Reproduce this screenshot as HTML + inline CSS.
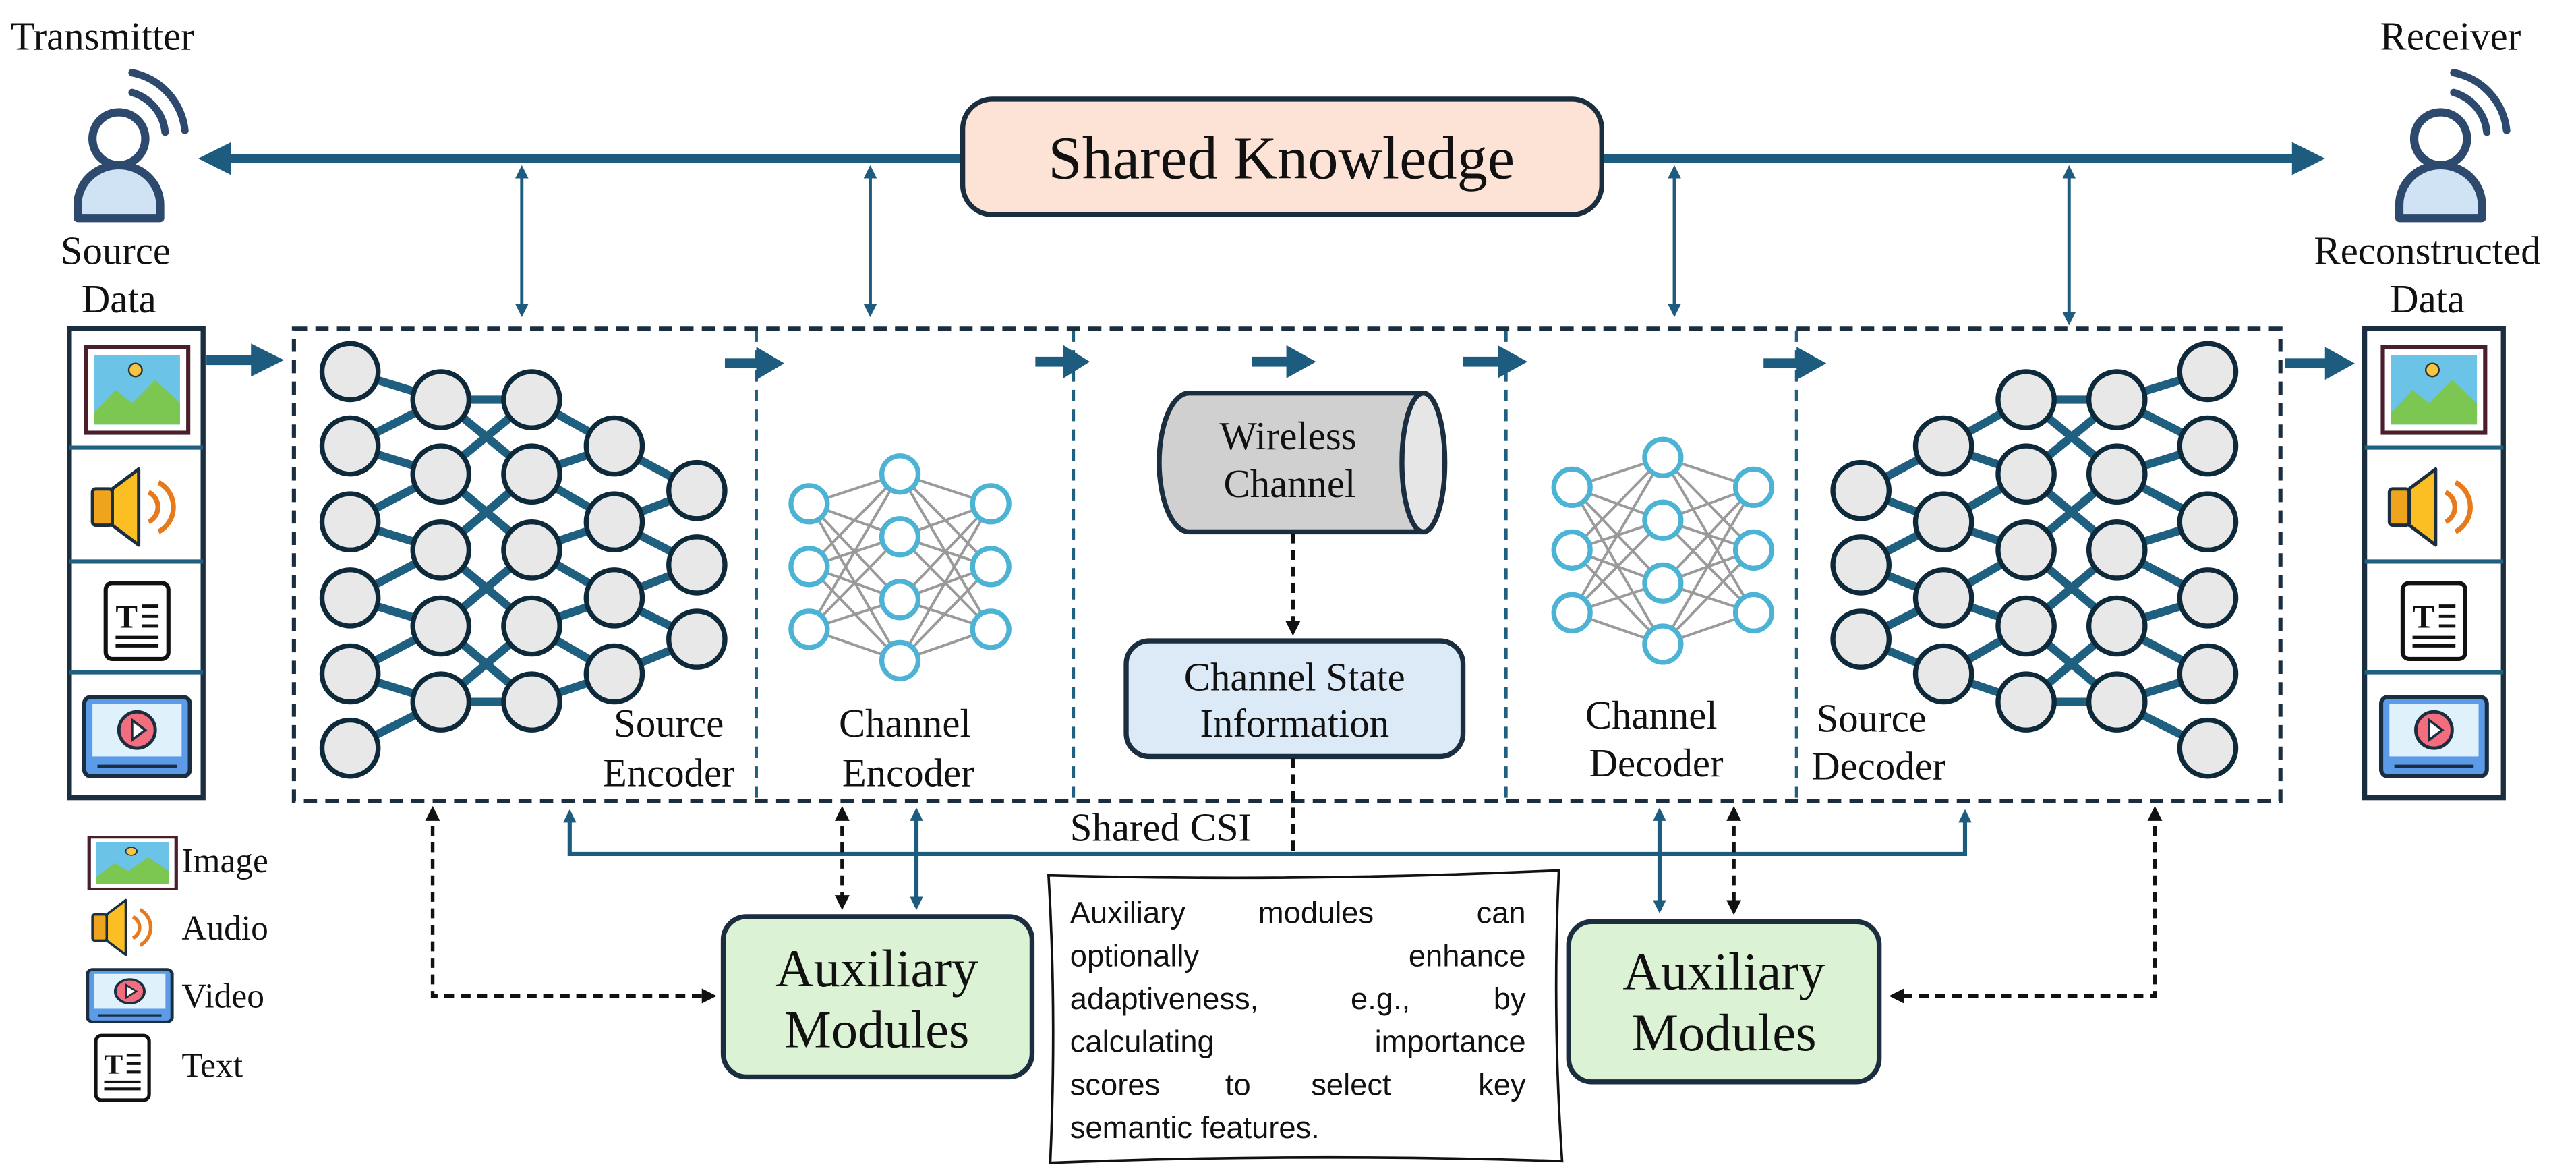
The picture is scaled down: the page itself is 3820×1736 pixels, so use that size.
<!DOCTYPE html>
<html><head><meta charset="utf-8"><style>
html,body{margin:0;padding:0;background:#fff;}
svg{display:block;}
.a{font-family:"Liberation Sans",sans-serif;fill:#111;font-size:18.5px;}
</style></head><body>
<svg width="3820" height="1736" viewBox="0 0 1560 709" preserveAspectRatio="none" xmlns="http://www.w3.org/2000/svg">
<defs>
<marker id="tb" markerWidth="8" markerHeight="8" refX="6" refY="4" orient="auto-start-reverse" markerUnits="userSpaceOnUse"><path d="M0,0L8,4L0,8z" fill="#1d5c7e"/></marker>
<marker id="bk" markerWidth="9" markerHeight="9" refX="7" refY="4.5" orient="auto-start-reverse" markerUnits="userSpaceOnUse"><path d="M0,0L9,4.5L0,9z" fill="#111"/></marker>
<g id="enc">
<path stroke="#1f5f80" stroke-width="5" fill="none" d="M212 225L267 242 M212 270L267 242 M212 270L267 287 M212 316L267 287 M212 316L267 333 M212 362L267 333 M212 362L267 379 M212 408L267 379 M212 408L267 425 M212 453L267 425 M267 242L322 242 M267 242L322 287 M267 287L322 242 M267 287L322 333 M267 333L322 287 M267 333L322 379 M267 379L322 333 M267 379L322 425 M267 425L322 379 M267 425L322 425 M322 242L372 270 M322 287L372 270 M322 287L372 316 M322 333L372 316 M322 333L372 362 M322 379L372 362 M322 379L372 408 M322 425L372 408 M372 270L422 297 M372 316L422 297 M372 316L422 342 M372 362L422 342 M372 362L422 387 M372 408L422 387"/>
<g fill="#e8e8e8" stroke="#0e2a3a" stroke-width="3">
<circle cx="212" cy="225" r="17"/><circle cx="212" cy="270" r="17"/><circle cx="212" cy="316" r="17"/><circle cx="212" cy="362" r="17"/><circle cx="212" cy="408" r="17"/><circle cx="212" cy="453" r="17"/>
<circle cx="267" cy="242" r="17"/><circle cx="267" cy="287" r="17"/><circle cx="267" cy="333" r="17"/><circle cx="267" cy="379" r="17"/><circle cx="267" cy="425" r="17"/>
<circle cx="322" cy="242" r="17"/><circle cx="322" cy="287" r="17"/><circle cx="322" cy="333" r="17"/><circle cx="322" cy="379" r="17"/><circle cx="322" cy="425" r="17"/>
<circle cx="372" cy="270" r="17"/><circle cx="372" cy="316" r="17"/><circle cx="372" cy="362" r="17"/><circle cx="372" cy="408" r="17"/>
<circle cx="422" cy="297" r="17"/><circle cx="422" cy="342" r="17"/><circle cx="422" cy="387" r="17"/>
</g></g>
<g id="ch">
<path stroke="#9a9a9a" stroke-width="1.6" fill="none" d="M490 305L545 287M490 305L545 325M490 305L545 363M490 305L545 400M490 343L545 287M490 343L545 325M490 343L545 363M490 343L545 400M490 381L545 287M490 381L545 325M490 381L545 363M490 381L545 400M600 305L545 287M600 305L545 325M600 305L545 363M600 305L545 400M600 343L545 287M600 343L545 325M600 343L545 363M600 343L545 400M600 381L545 287M600 381L545 325M600 381L545 363M600 381L545 400"/>
<g fill="#fff" stroke="#4db3d4" stroke-width="3">
<circle cx="490" cy="305" r="11"/><circle cx="490" cy="343" r="11"/><circle cx="490" cy="381" r="11"/>
<circle cx="545" cy="287" r="11"/><circle cx="545" cy="325" r="11"/><circle cx="545" cy="363" r="11"/><circle cx="545" cy="400" r="11"/>
<circle cx="600" cy="305" r="11"/><circle cx="600" cy="343" r="11"/><circle cx="600" cy="381" r="11"/>
</g></g>
<g id="person">
<circle cx="0" cy="0" r="16" fill="#fff" stroke="#2d4a6e" stroke-width="5"/>
<path d="M-25 48 L-25 40 A25 24 0 0 1 25 40 L25 48 Z" fill="#cfe3f5" stroke="#2d4a6e" stroke-width="5" stroke-linejoin="round"/>
<path d="M8 -28 A28 28 0 0 1 28 -4" fill="none" stroke="#2d4a6e" stroke-width="4.5" stroke-linecap="round"/>
<path d="M8 -40 A40 40 0 0 1 40 -5" fill="none" stroke="#2d4a6e" stroke-width="4.5" stroke-linecap="round"/>
</g>
<g id="imgicon">
<rect x="0" y="0" width="62" height="52" fill="#fff" stroke="#4a1f2a" stroke-width="2.5"/>
<rect x="5" y="5" width="52" height="42" fill="#6cc3e8"/>
<path d="M5 40 L18 26 L28 34 L42 20 L57 34 L57 47 L5 47Z" fill="#7cc652"/>
<circle cx="30" cy="14" r="4" fill="#f6c542" stroke="#333" stroke-width="1"/>
</g>
<g id="spk">
<rect x="0" y="12" width="12" height="22" rx="2" fill="#eea41c" stroke="#1a2e40" stroke-width="2"/>
<path d="M12 12 L28 0 L28 46 L12 34Z" fill="#fbbf24" stroke="#1a2e40" stroke-width="2" stroke-linejoin="round"/>
<path d="M34 14 A10 10 0 0 1 34 32" fill="none" stroke="#e87a1e" stroke-width="3"/>
<path d="M40 8 A17 17 0 0 1 40 38" fill="none" stroke="#e87a1e" stroke-width="3"/>
</g>
<g id="doc">
<rect x="0" y="0" width="38" height="46" rx="4" fill="#fff" stroke="#111" stroke-width="2.5"/>
<text x="6" y="27" font-family="Liberation Serif,serif" font-weight="bold" font-size="20" fill="#111">T</text>
<path d="M22 14H32M22 20H32M22 26H32M6 33H32M6 38H32" stroke="#111" stroke-width="2"/>
</g>
<g id="vid">
<rect x="0" y="0" width="64" height="48" rx="4" fill="#5b9be8" stroke="#1a2e40" stroke-width="2.5"/>
<rect x="5" y="4" width="54" height="32" fill="#dff2fb"/>
<circle cx="32" cy="20" r="11" fill="#f26d7d" stroke="#1a2e40" stroke-width="2"/>
<path d="M29 14 L37 20 L29 26Z" fill="#fff" stroke="#1a2e40" stroke-width="1.5"/>
<path d="M8 42H56" stroke="#1a2e40" stroke-width="2"/>
</g>
</defs>

<g font-family="Liberation Serif, serif" fill="#111">
<text x="62" y="30" font-size="24" text-anchor="middle">Transmitter</text>
<text x="1484" y="30" font-size="24" text-anchor="middle">Receiver</text>
<text x="70" y="160" font-size="24" text-anchor="middle">Source</text>
<text x="72" y="189" font-size="24" text-anchor="middle">Data</text>
<text x="1470" y="160" font-size="24" text-anchor="middle">Reconstructed</text>
<text x="1470" y="189" font-size="24" text-anchor="middle">Data</text>
</g>
<use href="#person" x="72" y="84"/>
<use href="#person" x="1478" y="84"/>

<line x1="130" y1="96" x2="1398" y2="96" stroke="#1d5c7e" stroke-width="5"/>
<path d="M120 96 L140 86 L140 106Z" fill="#1d5c7e"/>
<path d="M1408 96 L1388 86 L1388 106Z" fill="#1d5c7e"/>
<rect x="583" y="60" width="387" height="70" rx="18" fill="#fde3d5" stroke="#1a2e40" stroke-width="3"/>
<text font-family="Liberation Serif, serif" fill="#111" x="776" y="108" font-size="37" text-anchor="middle">Shared Knowledge</text>
<g stroke="#1d5c7e" stroke-width="2" marker-start="url(#tb)" marker-end="url(#tb)">
<line x1="316" y1="102" x2="316" y2="190"/>
<line x1="527" y1="102" x2="527" y2="190"/>
<line x1="1014" y1="102" x2="1014" y2="190"/>
<line x1="1253" y1="102" x2="1253" y2="195"/>
</g>

<g fill="#fff" stroke="#1a2e40" stroke-width="3">
<rect x="42" y="199" width="81" height="284"/>
<rect x="1432" y="199" width="84" height="284"/>
</g>
<path d="M42 271H123M42 340H123M42 407H123M1432 271H1516M1432 340H1516M1432 407H1516" stroke="#1f5f80" stroke-width="2.5"/>
<use href="#imgicon" x="52" y="210"/><use href="#imgicon" x="1443" y="210"/>
<use href="#spk" x="56" y="284"/><use href="#spk" x="1447" y="284"/>
<use href="#doc" x="64" y="353"/><use href="#doc" x="1455" y="353"/>
<use href="#vid" x="51" y="422"/><use href="#vid" x="1442" y="422"/>

<g stroke="#1f5f80" stroke-width="2" stroke-dasharray="7 5">
<line x1="458" y1="200" x2="458" y2="484"/>
<line x1="650" y1="200" x2="650" y2="484"/>
<line x1="912" y1="200" x2="912" y2="484"/>
<line x1="1088" y1="200" x2="1088" y2="484"/>
</g>
<rect x="178" y="199" width="1203" height="286" fill="none" stroke="#1a2e40" stroke-width="2.5" stroke-dasharray="8 5"/>

<g fill="#1d5c7e">
<rect x="125" y="215" width="28" height="6"/><path d="M152 208 L172 218 L152 228Z"/>
<rect x="439" y="217" width="20" height="6"/><path d="M458 210 L475 220 L458 230Z"/>
<rect x="627" y="216" width="18" height="6"/><path d="M644 209 L660 219 L644 229Z"/>
<rect x="758" y="216" width="22" height="6"/><path d="M779 209 L797 219 L779 229Z"/>
<rect x="886" y="216" width="22" height="6"/><path d="M907 209 L925 219 L907 229Z"/>
<rect x="1068" y="217" width="22" height="6"/><path d="M1088 210 L1106 220 L1088 230Z"/>
<rect x="1384" y="217" width="26" height="6"/><path d="M1408 210 L1426 220 L1408 230Z"/>
</g>

<use href="#enc"/>
<use href="#enc" transform="translate(1549,0) scale(-1,1)"/>
<use href="#ch"/>
<use href="#ch" transform="translate(462,-10)"/>
<g font-family="Liberation Serif, serif" fill="#111" font-size="24">
<text x="405" y="446" text-anchor="middle">Source</text>
<text x="405" y="476" text-anchor="middle">Encoder</text>
<text x="548" y="446" text-anchor="middle">Channel</text>
<text x="550" y="476" text-anchor="middle">Encoder</text>
<text x="1000" y="441" text-anchor="middle">Channel</text>
<text x="1003" y="470" text-anchor="middle">Decoder</text>
<text x="1100" y="443">Source</text>
<text x="1097" y="472">Decoder</text>
</g>

<path d="M720 238 H862 V322 H720 A18 42 0 0 1 720 238Z" fill="#d0d0d0" stroke="#1a2e40" stroke-width="3"/>
<ellipse cx="862" cy="280" rx="13" ry="42" fill="#e6e6e6" stroke="#1a2e40" stroke-width="3"/>
<g font-family="Liberation Serif, serif" fill="#111" font-size="24" text-anchor="middle">
<text x="780" y="272">Wireless</text>
<text x="781" y="301">Channel</text>
</g>
<line x1="783" y1="323" x2="783" y2="383" stroke="#111" stroke-width="2.5" stroke-dasharray="6 4" marker-end="url(#bk)"/>
<rect x="682" y="388" width="204" height="70" rx="14" fill="#dce9f7" stroke="#1a2e40" stroke-width="3"/>
<g font-family="Liberation Serif, serif" fill="#111" font-size="24" text-anchor="middle">
<text x="784" y="418">Channel State</text>
<text x="784" y="446">Information</text>
</g>
<line x1="783" y1="459" x2="783" y2="517" stroke="#111" stroke-width="2.5" stroke-dasharray="6 4"/>

<path d="M345 492 V517 H1190 V492" fill="none" stroke="#1d5c7e" stroke-width="2.5" marker-start="url(#tb)" marker-end="url(#tb)"/>
<text font-family="Liberation Serif, serif" fill="#111" x="703" y="509" font-size="24" text-anchor="middle">Shared CSI</text>
<g stroke="#1d5c7e" stroke-width="2.5" marker-start="url(#tb)" marker-end="url(#tb)">
<line x1="555" y1="491" x2="555" y2="549"/>
<line x1="1005" y1="491" x2="1005" y2="551"/>
</g>
<g stroke="#111" stroke-width="2.2" stroke-dasharray="6 4" fill="none" marker-start="url(#bk)" marker-end="url(#bk)">
<line x1="510" y1="490" x2="510" y2="549"/>
<line x1="1050" y1="490" x2="1050" y2="552"/>
<path d="M262 490 V603 H432"/>
<path d="M1305 490 V603 H1146"/>
</g>

<rect x="438" y="555" width="187" height="97" rx="14" fill="#dcf2d4" stroke="#1a2e40" stroke-width="3"/>
<rect x="950" y="558" width="188" height="97" rx="14" fill="#dcf2d4" stroke="#1a2e40" stroke-width="3"/>
<g font-family="Liberation Serif, serif" fill="#111" font-size="32" text-anchor="middle">
<text x="531" y="597">Auxiliary</text>
<text x="531" y="634">Modules</text>
<text x="1044" y="599">Auxiliary</text>
<text x="1044" y="636">Modules</text>
</g>

<path d="M635 530 Q790 534 944 527 Q940 615 946 703 Q790 698 636 704 Q640 615 635 530Z" fill="#fff" stroke="#111" stroke-width="1.5"/>
<g class="a">
<text x="648" y="559">Auxiliary</text><text x="762" y="559">modules</text><text x="924" y="559" text-anchor="end">can</text>
<text x="648" y="585">optionally</text><text x="924" y="585" text-anchor="end">enhance</text>
<text x="648" y="611">adaptiveness,</text><text x="818" y="611">e.g.,</text><text x="924" y="611" text-anchor="end">by</text>
<text x="648" y="637">calculating</text><text x="924" y="637" text-anchor="end">importance</text>
<text x="648" y="663">scores</text><text x="742" y="663">to</text><text x="794" y="663">select</text><text x="924" y="663" text-anchor="end">key</text>
<text x="648" y="689">semantic features.</text>
</g>

<use href="#imgicon" transform="translate(54,507) scale(0.85,0.6)"/>
<use href="#spk" transform="translate(56,545) scale(0.72)"/>
<use href="#vid" transform="translate(53,587) scale(0.8,0.66)"/>
<use href="#doc" transform="translate(58,627) scale(0.85)"/>
<g font-family="Liberation Serif, serif" fill="#111" font-size="21">
<text x="110" y="528">Image</text>
<text x="110" y="569">Audio</text>
<text x="110" y="610">Video</text>
<text x="110" y="652">Text</text>
</g>
</svg>
</body></html>
